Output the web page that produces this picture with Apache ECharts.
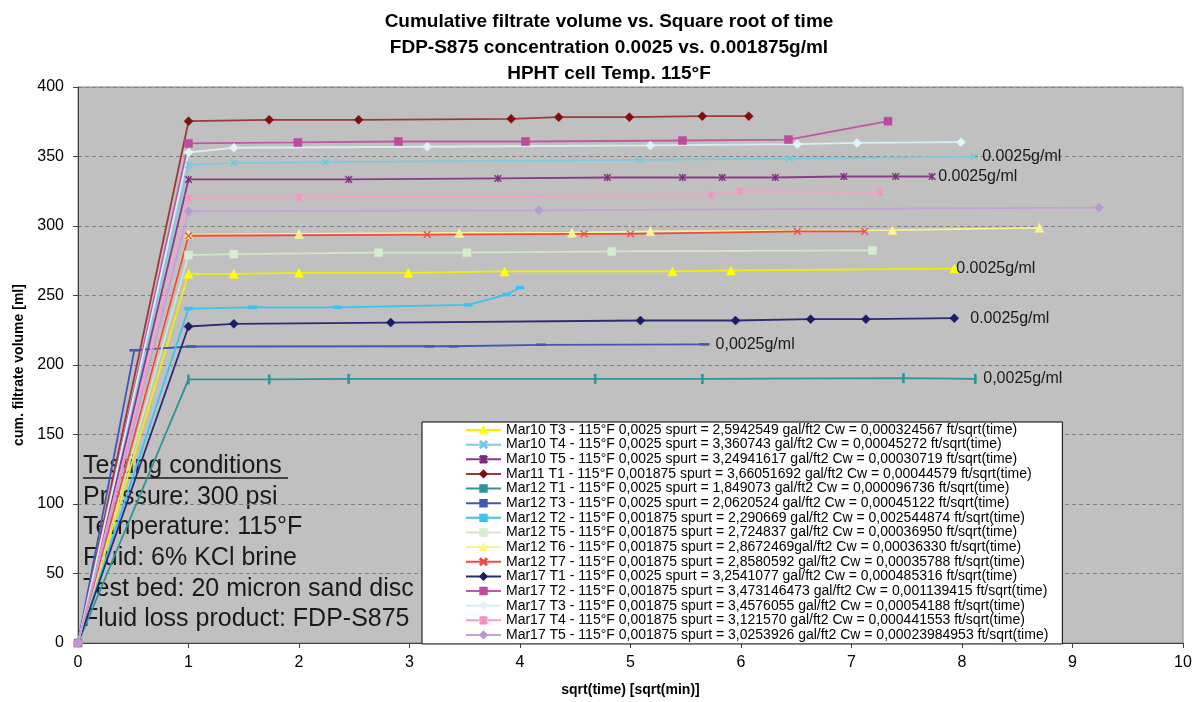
<!DOCTYPE html>
<html>
<head>
<meta charset="utf-8">
<title>Cumulative filtrate volume</title>
<script src="https://cdn.jsdelivr.net/npm/echarts@6/dist/echarts.min.js"></script>
<style>
html, body { margin: 0; padding: 0; background: #fff; }
#chart { width: 1195px; height: 702px; }
</style>
</head>
<body>
<div id="chart"></div>
<script>
// sqrt(time) [sqrt(min)] vs cum. filtrate volume [ml]
var mar10T3 = [[0, 0], [1, 265.6], [1.41, 265.6], [2, 266.3], [2.99, 266.3], [3.86, 267.3], [5.38, 267.3], [5.91, 268], [7.93, 269.4]]
var mar10T4 = [[0, 0], [1, 344], [1.41, 345.2], [2.24, 345.9], [5.08, 347.5], [6.44, 348.4], [8.11, 349.9]]
var mar10T5 = [[0, 0], [1, 333.5], [2.45, 333.5], [3.8, 334.2], [4.79, 334.9], [5.47, 334.9], [5.83, 334.9], [6.31, 334.9], [6.93, 335.6], [7.4, 335.6], [7.73, 335.6]]
var mar11T1 = [[0, 0], [1, 375.4], [1.73, 376.4], [2.54, 376.4], [3.92, 377.1], [4.35, 378.3], [4.99, 378.3], [5.65, 379], [6.07, 379]]
var mar12T1 = [[0, 0], [1, 189.6], [1.73, 189.6], [2.45, 190], [4.68, 190], [5.65, 190], [7.47, 190.5], [8.12, 190]]
var mar12T3 = [[0, 0], [0.51, 210.7], [1.02, 213.3], [3.18, 213.5], [3.4, 213.5], [4.19, 214.5], [5.67, 214.9]]
var mar12T2 = [[0, 0], [1, 240.5], [1.58, 241.5], [2.35, 241.5], [3.53, 243.3], [3.88, 250.7], [4, 255.7]]
var mar12T5 = [[0, 0], [1, 279.1], [1.41, 279.8], [2.72, 280.8], [3.52, 280.8], [4.83, 281.7], [7.19, 282.4]]
var mar12T6 = [[0, 0], [1, 293.8], [2, 294.3], [3.45, 295], [4.47, 295.2], [5.18, 296.2], [7.37, 297.1], [8.7, 298.7]]
var mar12T7 = [[0, 0], [1, 293], [3.16, 293.8], [4.58, 294.3], [5, 294.3], [6.51, 296.1], [7.12, 296.1]]
var mar17T1 = [[0, 0], [1, 227.7], [1.41, 229.6], [2.83, 230.5], [5.09, 232], [5.95, 232], [6.63, 233], [7.13, 233], [7.93, 233.7]]
var mar17T2 = [[0, 0], [1, 359.4], [1.99, 360.1], [2.9, 360.8], [4.05, 360.8], [5.47, 361.5], [6.43, 362.2], [7.33, 375.4]]
var mar17T3 = [[0, 0], [1, 353], [1.41, 356.3], [3.16, 357], [5.18, 358], [6.51, 358.9], [7.05, 359.8], [7.99, 360.3]]
var mar17T4 = [[0, 0], [1, 320], [2, 320.7], [5.73, 322.2], [5.99, 325], [7.26, 324.3]]
var mar17T5 = [[0, 0], [1, 310.6], [4.17, 311.3], [9.24, 313.2]]

var seriesNames = [
  'Mar10 T3 - 115°F 0,0025 spurt = 2,5942549 gal/ft2 Cw = 0,000324567 ft/sqrt(time)',
  'Mar10 T4 - 115°F 0,0025 spurt = 3,360743 gal/ft2 Cw = 0,00045272 ft/sqrt(time)',
  'Mar10 T5 - 115°F 0,0025 spurt = 3,24941617 gal/ft2 Cw = 0,00030719 ft/sqrt(time)',
  'Mar11 T1 - 115°F 0,001875 spurt = 3,66051692 gal/ft2 Cw = 0,00044579 ft/sqrt(time)',
  'Mar12 T1 - 115°F 0,0025 spurt = 1,849073 gal/ft2 Cw = 0,000096736 ft/sqrt(time)',
  'Mar12 T3 - 115°F 0,0025 spurt = 2,0620524 gal/ft2 Cw = 0,00045122 ft/sqrt(time)',
  'Mar12 T2 - 115°F 0,001875 spurt = 2,290669 gal/ft2 Cw = 0,002544874 ft/sqrt(time)',
  'Mar12 T5 - 115°F 0,001875 spurt = 2,724837 gal/ft2 Cw = 0,00036950 ft/sqrt(time)',
  'Mar12 T6 - 115°F 0,001875 spurt = 2,8672469gal/ft2 Cw = 0,00036330 ft/sqrt(time)',
  'Mar12 T7 - 115°F 0,001875 spurt = 2,8580592 gal/ft2 Cw = 0,00035788 ft/sqrt(time)',
  'Mar17 T1 - 115°F 0,0025 spurt = 3,2541077 gal/ft2 Cw = 0,000485316 ft/sqrt(time)',
  'Mar17 T2 - 115°F 0,001875 spurt = 3,473146473 gal/ft2 Cw = 0,001139415 ft/sqrt(time)',
  'Mar17 T3 - 115°F 0,001875 spurt = 3,4576055 gal/ft2 Cw = 0,00054188 ft/sqrt(time)',
  'Mar17 T4 - 115°F 0,001875 spurt = 3,121570 gal/ft2 Cw = 0,000441553 ft/sqrt(time)',
  'Mar17 T5 - 115°F 0,001875 spurt = 3,0253926 gal/ft2 Cw = 0,00023984953 ft/sqrt(time)'
]
var seriesData = [mar10T3, mar10T4, mar10T5, mar11T1, mar12T1, mar12T3, mar12T2, mar12T5,
  mar12T6, mar12T7, mar17T1, mar17T2, mar17T3, mar17T4, mar17T5]
// end-of-line notes, same order as the series ('' = none)
var endNotes = ['0.0025g/ml', '0.0025g/ml', '0.0025g/ml', '', '0,0025g/ml', '0,0025g/ml', '',
  '', '', '', '0.0025g/ml', '', '', '', '']
var xTicks = [0, 10, 1]
var yTicks = [0, 400, 50]

var xMark = 'path://M0,1L1,0L5,4L9,0L10,1L6,5L10,9L9,10L5,6L1,10L0,9L4,5Z'
var starMark = 'path://M0,1L1,0L4.5,3.5L4.5,0L5.5,0L5.5,3.5L9,0L10,1L6,5L10,9L9,10L5.5,6.5L5.5,10L4.5,10L4.5,6.5L1,10L0,9L4,5Z'
var styles = [
  { line: '#f2ee00', mark: '#ffff00', symbol: 'triangle', size: 9, dist: 2 },
  { line: '#7ccbe0', mark: '#70c8e0', symbol: xMark, size: 7, dist: 8 },
  { line: '#8a3a8c', mark: '#7a2a7c', symbol: starMark, size: 7, dist: 6 },
  { line: '#9c3a3a', mark: '#7e1010', symbol: 'diamond', size: 9 },
  { line: '#2e9494', mark: '#2e9494', symbol: 'rect', size: [2, 8], dist: 8 },
  { line: '#4058b0', mark: '#4058b0', symbol: 'rect', size: [8, 2], dist: 11 },
  { line: '#38c4f0', mark: '#38c4f0', symbol: 'rect', size: [8, 3] },
  { line: '#d2e6c8', mark: '#d4ecd0', symbol: 'rect', size: 8 },
  { line: '#f8f290', mark: '#fbf590', symbol: 'triangle', size: 9 },
  { line: '#f04848', mark: '#f04848', symbol: xMark, size: 7 },
  { line: '#2a2a78', mark: '#1c1c66', symbol: 'diamond', size: 9, dist: 16 },
  { line: '#c058a4', mark: '#c04a9e', symbol: 'rect', size: 8 },
  { line: '#d8eef4', mark: '#e0f4fa', symbol: 'diamond', size: 9 },
  { line: '#f4a0c8', mark: '#f490c0', symbol: starMark, size: 7 },
  { line: '#c2a2d8', mark: '#b898d2', symbol: 'diamond', size: 9 }
]

var myChart = echarts.init(document.getElementById('chart'))

function getOption () {
  var font = 'Liberation Sans, Arial, sans-serif'
  var series = []
  for (let i = 0; i < seriesData.length; i++) {
    var s = styles[i]
    series.push({
      name: seriesNames[i],
      type: 'line',
      data: seriesData[i],
      symbol: s.symbol,
      symbolSize: s.size,
      showAllSymbol: true,
      lineStyle: { color: s.line, width: 1.8 },
      itemStyle: { color: s.mark, borderColor: s.mark, borderWidth: 0.5 },
      endLabel: {
        show: endNotes[i] !== '',
        formatter: endNotes[i],
        distance: s.dist || 5,
        color: '#1a1a1a',
        fontFamily: font,
        fontSize: 16
      },
      emphasis: { disabled: true }
    })
  }

  return {
    animation: false,
    backgroundColor: '#ffffff',
    title: {
      text: 'Cumulative filtrate volume vs. Square root of time\nFDP-S875 concentration 0.0025 vs. 0.001875g/ml\nHPHT cell Temp. 115°F',
      left: 604,
      top: 4,
      textAlign: 'center',
      textStyle: {
        fontFamily: font,
        fontWeight: 'bold',
        fontSize: 19,
        lineHeight: 26,
        color: '#000'
      }
    },
    grid: {
      left: 78,
      right: 12,
      top: 87,
      bottom: 53,
      show: true,
      backgroundColor: '#c0c0c0',
      borderColor: '#808080',
      borderWidth: 1
    },
    legend: {
      orient: 'vertical',
      left: 422,
      top: 422,
      padding: [1, 14, 2, 43],
      itemWidth: 35,
      itemHeight: 8,
      itemGap: 0.64,
      backgroundColor: '#ffffff',
      borderColor: '#000000',
      borderWidth: 1,
      textStyle: { fontFamily: font, fontSize: 14, color: '#000', lineHeight: 14 },
      data: seriesNames
    },
    xAxis: {
      type: 'value',
      min: xTicks[0],
      max: xTicks[1],
      interval: xTicks[2],
      name: 'sqrt(time) [sqrt(min)]',
      nameLocation: 'middle',
      nameGap: 40,
      nameTextStyle: { fontFamily: font, fontWeight: 'bold', fontSize: 14, color: '#000' },
      axisLine: { lineStyle: { color: '#404040', width: 1 } },
      axisTick: { show: true, length: 5, lineStyle: { color: '#404040' } },
      axisLabel: { fontFamily: font, fontSize: 16, color: '#000', margin: 12 },
      splitLine: { show: false }
    },
    yAxis: {
      type: 'value',
      min: yTicks[0],
      max: yTicks[1],
      interval: yTicks[2],
      name: 'cum. filtrate volume [ml]',
      nameLocation: 'middle',
      nameGap: 52,
      nameTextStyle: { fontFamily: font, fontWeight: 'bold', fontSize: 14, color: '#000' },
      axisLine: { show: true, lineStyle: { color: '#404040', width: 1 } },
      axisTick: { show: true, length: 5, lineStyle: { color: '#404040' } },
      axisLabel: { fontFamily: font, fontSize: 16, color: '#000', margin: 14 },
      splitLine: { show: true, lineStyle: { color: '#808080', type: [4, 3], width: 1 } }
    },
    graphic: [
      {
        type: 'text',
        left: 83,
        top: 451,
        z: 0,
        style: {
          text: 'Testing conditions\nPressure: 300 psi\nTemperature: 115°F\nFluid: 6% KCl brine\nTest bed: 20 micron sand disc\nFluid loss product: FDP-S875',
          font: '25px ' + font,
          lineHeight: 30.6,
          fill: '#1a1a1a'
        }
      },
      {
        type: 'line',
        z: 0,
        shape: { x1: 83, y1: 478, x2: 288, y2: 478 },
        style: { stroke: '#1a1a1a', lineWidth: 1.5 }
      }
    ],
    series: series
  }
}

myChart.setOption(getOption())
</script>
</body>
</html>
